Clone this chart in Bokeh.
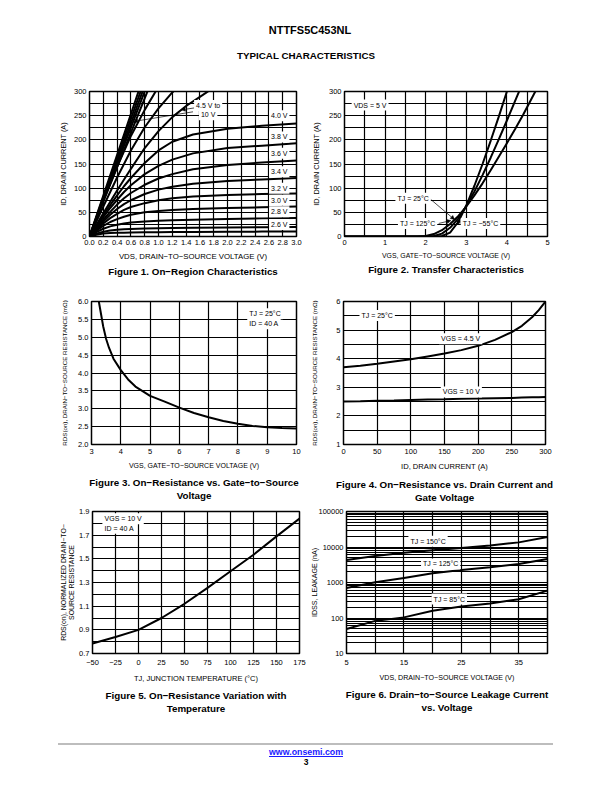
from bokeh.plotting import figure
from bokeh.models import (Range1d, FixedTicker, NumeralTickFormatter, Label, Arrow,
                          NormalHead, Title, Div)
from bokeh.layouts import column, row
from bokeh.embed import file_html
from bokeh.resources import INLINE

FONT = "Liberation Sans"

# ---------------- Figure 1: On-Region Characteristics ----------------
f1_vds = [0, 0.1, 0.2, 0.3, 0.4, 0.5, 0.6, 0.8, 1.0, 1.2, 1.5, 2.0, 2.5, 3.0]
f1_id_2v4 = [0, 3.5, 6, 7, 7.6, 8, 8.2, 8.6, 9, 9.2, 9.5, 9.8, 10.1, 10.4]
f1_id_2v6 = [0, 6, 10, 12.5, 14, 15, 15.7, 16.5, 17, 17.5, 18, 18.6, 19, 19.5]
f1_id_2v8 = [0, 9, 16, 21, 24.5, 27, 29, 31, 32.5, 33.5, 34.5, 36, 37.5, 38.5]
f1_id_3v0 = [0, 12, 22, 30, 36, 41, 45, 50, 53, 55, 57, 59, 60.5, 62]
f1_id_3v2 = [0, 14, 27, 38, 47, 55, 61, 69, 75, 79, 83, 86, 88, 89]
f1_id_3v4 = [0, 16, 31, 45, 57, 67, 75, 88, 97, 103, 109, 115, 118, 121]
f1_id_3v6 = [0, 18, 35, 51, 66, 79, 90, 107, 120, 129, 139, 148, 153, 157]
f1_id_3v8 = [0, 20, 40, 59, 76, 92, 106, 129, 146, 159, 172, 183, 188, 193]
f1_id_4v0 = [0, 22, 44, 65, 85, 104, 121, 152, 178, 196, 211, 223, 229, 234]
f1_vds_4v5 = [0, 0.2, 0.4, 0.6, 0.8, 1.0, 1.2, 1.4, 1.6, 1.8]
f1_id_4v5 = [0, 48, 95, 140, 183, 218, 247, 270, 289, 308]
f1_vds_5v0 = [0, 0.2, 0.4, 0.6, 0.8, 1.0, 1.2, 1.3]
f1_id_5v0 = [0, 62, 122, 178, 226, 265, 298, 312]
f1_vds_5v5 = [0, 0.2, 0.4, 0.6, 0.8, 1.0]
f1_id_5v5 = [0, 74, 144, 208, 262, 310]
f1_vds_hi = [0, 0.5, 1.0]
f1_id_6v0 = [0, 179, 357]
f1_id_7v0 = [0, 188, 375]
f1_id_8v0 = [0, 195, 390]
f1_id_9v0 = [0, 203, 405]
f1_id_10v = [0, 211, 423]
f1_labels = ["4.0 V", "3.8 V", "3.6 V", "3.4 V", "3.2 V", "3.0 V", "2.8 V", "2.6 V"]
f1_label_y = [250, 206, 172, 134, 100, 75, 51, 25]

# ---------------- Figure 2: Transfer Characteristics ----------------
f2_vgs_125 = [0, 1.0, 1.8, 2.0, 2.2, 2.4, 2.6, 2.8, 3.0, 3.2, 3.4, 3.6, 3.8, 4.0, 4.2, 4.4, 4.6, 4.8]
f2_id_125 = [0, 0, 0, 1, 5, 13, 26, 42, 62, 85, 110, 137, 165, 193, 222, 252, 284, 316]
f2_vgs_25 = [0, 1.0, 1.8, 2.0, 2.2, 2.4, 2.6, 2.8, 3.0, 3.2, 3.4, 3.6, 3.8, 4.0, 4.2, 4.4]
f2_id_25 = [0, 0, 0, 0, 1, 6, 18, 37, 63, 93, 127, 163, 201, 240, 280, 320]
f2_vgs_m55 = [0, 1.0, 1.8, 2.0, 2.2, 2.4, 2.6, 2.8, 3.0, 3.2, 3.4, 3.6, 3.8, 4.0, 4.1]
f2_id_m55 = [0, 0, 0, 0, 0, 1, 8, 30, 64, 105, 150, 198, 248, 300, 326]

# ---------------- Figure 3: RDS(on) vs VGS ----------------
f3_vgs = [3.25, 3.4, 3.5, 3.6, 3.75, 4.0, 4.25, 4.5, 5, 5.5, 6, 6.5, 7, 7.5, 8, 8.5, 9, 9.5, 10]
f3_rds = [6.0, 5.3, 4.95, 4.7, 4.4, 4.08, 3.82, 3.62, 3.36, 3.2, 3.03, 2.88, 2.76, 2.66, 2.58, 2.52, 2.48, 2.46, 2.45]

# ---------------- Figure 4: RDS(on) vs ID ----------------
f4_id = [0, 25, 50, 75, 100, 125, 150, 175, 200, 225, 250, 265, 280, 290, 300]
f4_rds_4v5 = [3.70, 3.75, 3.82, 3.90, 3.98, 4.08, 4.18, 4.30, 4.45, 4.66, 4.93, 5.15, 5.45, 5.70, 6.0]
f4_rds_10v = [2.50, 2.51, 2.53, 2.54, 2.56, 2.57, 2.58, 2.60, 2.61, 2.62, 2.63, 2.64, 2.65, 2.655, 2.66]

# ---------------- Figure 5: Normalized RDS(on) vs TJ ----------------
f5_tj = [-50, -25, 0, 25, 50, 75, 100, 125, 150, 175]
f5_norm = [0.785, 0.84, 0.9, 1.0, 1.12, 1.255, 1.395, 1.535, 1.69, 1.84]

# ---------------- Figure 6: IDSS vs VDS ----------------
f6_vds = [5, 10, 15, 20, 25, 30, 35, 40]
f6_idss_150 = [4300, 5600, 6900, 8100, 9400, 11000, 13500, 19000]
f6_idss_125 = [700, 1010, 1340, 1820, 2250, 2700, 3300, 4600]
f6_idss_85 = [49, 83, 104, 160, 210, 258, 336, 590]


def make_fig(width, height, xr, yr, ml, mr, mt, mb, tick_standoff, log_y=False):
    p = figure(width=width, height=height,
               x_range=Range1d(*xr), y_range=Range1d(*yr),
               y_axis_type="log" if log_y else "linear",
               output_backend="svg", toolbar_location=None,
               min_border_left=ml, min_border_right=mr,
               min_border_top=mt, min_border_bottom=mb)
    p.outline_line_color = "black"
    p.outline_line_width = 1.5
    p.outline_line_alpha = 1.0
    p.background_fill_color = "white"
    p.border_fill_color = "white"
    for ax in (p.xaxis[0], p.yaxis[0]):
        ax.axis_line_color = None
        ax.major_tick_line_color = None
        ax.minor_tick_line_color = None
        ax.major_tick_out = 0
        ax.major_tick_in = 0
        ax.minor_tick_out = 0
        ax.major_label_text_font = FONT
        ax.major_label_text_font_size = "7.5px"
        ax.major_label_text_color = "black"
        ax.axis_label_text_font = FONT
        ax.axis_label_text_font_style = "normal"
        ax.axis_label_text_color = "black"
    p.xaxis[0].major_label_standoff = tick_standoff
    p.yaxis[0].major_label_standoff = 3
    for g in p.grid:
        g.grid_line_color = "black"
        g.grid_line_width = 1.2
        g.minor_grid_line_color = "black"
        g.minor_grid_line_width = 1.2
    return p


def set_ticks(p, xt, xm, yt, ym):
    p.xaxis[0].ticker = FixedTicker(ticks=xt, minor_ticks=xm)
    p.yaxis[0].ticker = FixedTicker(ticks=yt, minor_ticks=ym)
    p.xgrid[0].ticker = FixedTicker(ticks=xt, minor_ticks=xm)
    p.ygrid[0].ticker = FixedTicker(ticks=yt, minor_ticks=ym)


def labels(p, xlab, xsize, xstand, ylab, ysize, ystand):
    p.xaxis[0].axis_label = xlab
    p.xaxis[0].axis_label_text_font_size = xsize
    p.xaxis[0].axis_label_standoff = xstand
    p.yaxis[0].axis_label = ylab
    p.yaxis[0].axis_label_text_font_size = ysize
    p.yaxis[0].axis_label_standoff = ystand


def caption(p, lines, standoff, gap=0):
    for i, text in enumerate(lines):
        p.add_layout(Title(text=text, align="center", text_font=FONT,
                           text_font_size="9.8px", text_font_style="bold",
                           text_color="black", standoff=standoff if i == 0 else gap), "below")


def note(p, x, y, text, align="center", size="7px"):
    p.add_layout(Label(x=x, y=y, text=text, text_font=FONT, text_font_size=size,
                       text_align=align, text_baseline="middle", text_color="black",
                       background_fill_color="white", background_fill_alpha=1.0,
                       padding=2))


def arrow(p, x0, y0, x1, y1):
    p.add_layout(Arrow(end=NormalHead(size=4, line_color="black", fill_color="black", line_width=0.5),
                       x_start=x0, y_start=y0, x_end=x1, y_end=y1,
                       line_color="black", line_width=0.7))


LW = 2.0

# ---------- Figure 1 ----------
p1 = make_fig(308, 205, (0, 3.0), (0, 300), 89, 12, 8, 52, 3)
set_ticks(p1, [round(0.2 * i, 1) for i in range(16)], [],
          [0, 50, 100, 150, 200, 250, 300], [25, 75, 125, 175, 225, 275])
p1.xaxis[0].formatter = NumeralTickFormatter(format="0.0")
labels(p1, "VDS, DRAIN\u2212TO\u2212SOURCE VOLTAGE (V)", "7.8px", 4,
       "ID, DRAIN CURRENT (A)", "7.3px", 3)
for ys in (f1_id_2v4, f1_id_2v6, f1_id_2v8, f1_id_3v0, f1_id_3v2, f1_id_3v4,
           f1_id_3v6, f1_id_3v8, f1_id_4v0):
    p1.line(f1_vds, ys, line_color="black", line_width=LW)
p1.line(f1_vds_4v5, f1_id_4v5, line_color="black", line_width=LW)
p1.line(f1_vds_5v0, f1_id_5v0, line_color="black", line_width=LW)
p1.line(f1_vds_5v5, f1_id_5v5, line_color="black", line_width=LW)
for ys in (f1_id_6v0, f1_id_7v0, f1_id_8v0, f1_id_9v0, f1_id_10v):
    p1.line(f1_vds_hi, ys, line_color="black", line_width=LW)
for t, yv in zip(f1_labels, f1_label_y):
    note(p1, 2.75, yv, t)
arrow(p1, 1.52, 266, 1.33, 262)
arrow(p1, 1.50, 258, 0.64, 238)
note(p1, 1.72, 271, "4.5 V to")
note(p1, 1.72, 252, "10 V")
caption(p1, ["Figure 1. On\u2212Region Characteristics"], 0)

# ---------- Figure 2 ----------
p2 = make_fig(296, 205, (0, 5), (0, 300), 33, 57, 8, 52, 3)
set_ticks(p2, [0, 1, 2, 3, 4, 5], [0.5, 1.5, 2.5, 3.5, 4.5],
          [0, 50, 100, 150, 200, 250, 300], [25, 75, 125, 175, 225, 275])
labels(p2, "VGS, GATE\u2212TO\u2212SOURCE VOLTAGE (V)", "6.9px", 4,
       "ID, DRAIN CURRENT (A)", "7.3px", 5)
p2.line(f2_vgs_125, f2_id_125, line_color="black", line_width=LW)
p2.line(f2_vgs_25, f2_id_25, line_color="black", line_width=LW)
p2.line(f2_vgs_m55, f2_id_m55, line_color="black", line_width=LW)
note(p2, 0.63, 272, "VDS = 5 V")
arrow(p2, 2.12, 77, 2.71, 35)
arrow(p2, 2.32, 27, 2.62, 33)
arrow(p2, 2.88, 27, 2.75, 33)
note(p2, 1.69, 79, "TJ = 25\u00b0C")
note(p2, 1.80, 27, "TJ = 125\u00b0C")
note(p2, 3.35, 27, "TJ = \u221255\u00b0C")
caption(p2, ["Figure 2. Transfer Characteristics"], 0)

# ---------- Figure 3 ----------
p3 = make_fig(308, 218, (3, 10), (2.0, 6.0), 91, 12, 13, 62, 4)
set_ticks(p3, [3, 4, 5, 6, 7, 8, 9, 10], [],
          [2.0, 2.5, 3.0, 3.5, 4.0, 4.5, 5.0, 5.5, 6.0], [])
p3.yaxis[0].formatter = NumeralTickFormatter(format="0.0")
labels(p3, "VGS, GATE\u2212TO\u2212SOURCE VOLTAGE (V)", "7px", 5,
       "RDS(on), DRAIN\u2212TO\u2212SOURCE RESISTANCE (m\u03a9)", "6.2px", 7)
p3.line(f3_vgs, f3_rds, line_color="black", line_width=LW)
note(p3, 8.32, 5.66, "TJ = 25\u00b0C", align="left")
note(p3, 8.32, 5.38, "ID = 40 A", align="left")
caption(p3, ["Figure 3. On\u2212Resistance vs. Gate\u2212to\u2212Source", "Voltage"], 6, -5.5)

# ---------- Figure 4 ----------
p4 = make_fig(296, 218, (0, 300), (1, 6), 33, 59, 13, 62, 4)
set_ticks(p4, [0, 50, 100, 150, 200, 250, 300], [],
          [1, 2, 3, 4, 5, 6], [1.5, 2.5, 3.5, 4.5, 5.5])
labels(p4, "ID, DRAIN CURRENT (A)", "7.6px", 5,
       "RDS(on), DRAIN\u2212TO\u2212SOURCE RESISTANCE (m\u03a9)", "6.2px", 15)
p4.line(f4_id, f4_rds_4v5, line_color="black", line_width=LW)
p4.line(f4_id, f4_rds_10v, line_color="black", line_width=LW)
note(p4, 50, 5.51, "TJ = 25\u00b0C")
note(p4, 174, 4.70, "VGS = 4.5 V")
note(p4, 175, 2.84, "VGS = 10 V")
caption(p4, ["Figure 4. On\u2212Resistance vs. Drain Current and", "Gate Voltage"], 6, -5.5)

# ---------- Figure 5 ----------
p5 = make_fig(308, 213, (-50, 175), (0.7, 1.9), 92, 9, 5, 66, 6)
set_ticks(p5, [-50, -25, 0, 25, 50, 75, 100, 125, 150, 175], [],
          [0.7, 0.9, 1.1, 1.3, 1.5, 1.7, 1.9], [0.8, 1.0, 1.2, 1.4, 1.6, 1.8])
p5.yaxis[0].formatter = NumeralTickFormatter(format="0.0")
p5.xaxis[0].major_label_overrides = {-50: "\u221250", -25: "\u221225"}
labels(p5, "TJ, JUNCTION TEMPERATURE (\u00b0C)", "7.5px", 6,
       "RDS(on), NORMALIZED DRAIN\u2212TO\u2212\nSOURCE RESISTANCE", "6.9px", 1)
p5.line(f5_tj, f5_norm, line_color="black", line_width=LW)
note(p5, -39, 1.838, "VGS = 10 V", align="left")
note(p5, -39, 1.759, "ID = 40 A", align="left")
caption(p5, ["Figure 5. On\u2212Resistance Variation with", "Temperature"], 5, -6)

# ---------- Figure 6 ----------
p6 = make_fig(296, 213, (5, 40), (10, 100000), 33, 57, 5, 66, 6, log_y=True)
minor_log = [m * d for d in (10, 100, 1000, 10000) for m in range(2, 10)]
set_ticks(p6, [5, 15, 25, 35], [10, 20, 30, 40],
          [10, 100, 1000, 10000, 100000], minor_log)
p6.yaxis[0].formatter = NumeralTickFormatter(format="0")
labels(p6, "VDS, DRAIN\u2212TO\u2212SOURCE VOLTAGE (V)", "7.1px", 6,
       "IDSS, LEAKAGE (nA)", "7.1px", -4)
p6.line(f6_vds, f6_idss_150, line_color="black", line_width=LW)
p6.line(f6_vds, f6_idss_125, line_color="black", line_width=LW)
p6.line(f6_vds, f6_idss_85, line_color="black", line_width=LW)
note(p6, 19.2, 14500, "TJ = 150\u00b0C")
note(p6, 21.4, 3330, "TJ = 125\u00b0C")
note(p6, 22.9, 342, "TJ = 85\u00b0C")
caption(p6, ["Figure 6. Drain\u2212to\u2212Source Leakage Current", "vs. Voltage"], 5, -6)

# ---------- header / footer ----------
header = Div(width=604, height=83, margin=0, text=(
    '<div style="position:relative;width:604px;height:83px;'
    'font-family:\'Liberation Sans\',Arial,sans-serif;color:black;">'
    '<div style="position:absolute;left:8px;top:24px;width:604px;text-align:center;'
    'font-weight:bold;font-size:11px;line-height:13px;">NTTFS5C453NL</div>'
    '<div style="position:absolute;left:4px;top:50px;width:604px;text-align:center;'
    'font-weight:bold;font-size:9.8px;line-height:12px;">TYPICAL CHARACTERISTICS</div>'
    '</div>'))

footer = Div(width=604, height=65, margin=0, text=(
    '<div style="position:relative;width:604px;height:65px;'
    'font-family:\'Liberation Sans\',Arial,sans-serif;">'
    '<div style="position:absolute;left:58px;top:24px;width:495px;height:2px;background:#bdbdbd;"></div>'
    '<div style="position:absolute;left:4px;top:28px;width:604px;text-align:center;'
    'font-weight:bold;font-size:8.8px;line-height:11px;">'
    '<span style="color:#1a1aff;text-decoration:underline;">www.onsemi.com</span></div>'
    '<div style="position:absolute;left:4px;top:38px;width:604px;text-align:center;'
    'font-weight:bold;font-size:8.5px;line-height:10px;color:black;">3</div>'
    '</div>'))

layout = column(header,
                row(p1, p2, spacing=0),
                row(p3, p4, spacing=0),
                row(p5, p6, spacing=0),
                footer, spacing=0)

open("out.html", "w").write(file_html(layout, INLINE))
